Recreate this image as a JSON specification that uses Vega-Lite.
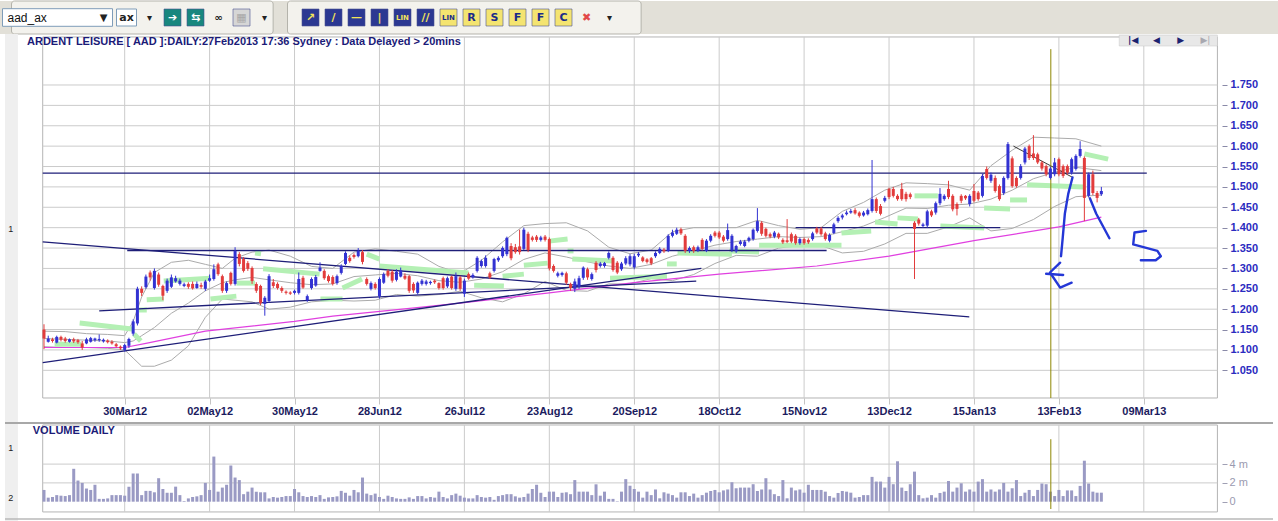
{
  "$schema": "https://vega.github.io/schema/vega-lite/v6.json",
  "padding": 0,
  "background": "white",
  "spacing": 0,
  "bounds": "flush",
  "config": {"view": {"stroke": null}, "font": "Liberation Sans", "axis": {"titleOpacity": 0, "grid": false}},
  "datasets": {
    "tbgrp": [{"from": "t00", "to": "t11"}, {"from": "t12", "to": "t27"}],
    "tb": [
      {"id": "t02", "kind": "dropbox", "g": ""},
      {"id": "t00", "kind": "ddtext", "g": "aad_ax"},
      {"id": "t04", "kind": "plain", "g": "▼"},
      {"id": "t05", "kind": "combo", "g": "ax"},
      {"id": "t06", "kind": "plain", "g": "▾"},
      {"id": "t07", "kind": "teal", "g": "➔"},
      {"id": "t08", "kind": "teal", "g": "⇆"},
      {"id": "t09", "kind": "plain", "g": "∞"},
      {"id": "t10", "kind": "gray", "g": "▦"},
      {"id": "t11", "kind": "plain", "g": "▾"},
      {"id": "t13", "kind": "navy", "g": "↗"},
      {"id": "t14", "kind": "navy", "g": "/"},
      {"id": "t15", "kind": "navy", "g": "—"},
      {"id": "t16", "kind": "navy", "g": "|"},
      {"id": "t17", "kind": "navy", "g": "LIN"},
      {"id": "t18", "kind": "navy", "g": "//"},
      {"id": "t19", "kind": "yellow", "g": "LIN"},
      {"id": "t20", "kind": "yellow", "g": "R"},
      {"id": "t21", "kind": "yellow", "g": "S"},
      {"id": "t22", "kind": "yellow", "g": "F"},
      {"id": "t23", "kind": "yellow", "g": "F"},
      {"id": "t24", "kind": "yellow", "g": "C"},
      {"id": "t25", "kind": "red", "g": "✖"},
      {"id": "t26", "kind": "plain", "g": "▾"}
    ],
    "pgrid": [{"p": 1.05}, {"p": 1.1}, {"p": 1.15}, {"p": 1.2}, {"p": 1.25}, {"p": 1.3}, {"p": 1.35}, {"p": 1.4}, {"p": 1.45}, {"p": 1.5}, {"p": 1.55}, {"p": 1.6}, {"p": 1.65}, {"p": 1.7}, {"p": 1.75}],
    "xgrid": [{"i": 19}, {"i": 39}, {"i": 59}, {"i": 79}, {"i": 99}, {"i": 119}, {"i": 139}, {"i": 159}, {"i": 179}, {"i": 199}, {"i": 219}, {"i": 239}, {"i": 259}],
    "bb": [
      {"i": 0, "up": 1.146, "mid": 1.128, "lo": 1.108},
      {"i": 5, "up": 1.145, "mid": 1.126, "lo": 1.106},
      {"i": 10, "up": 1.14, "mid": 1.124, "lo": 1.106},
      {"i": 15, "up": 1.138, "mid": 1.122, "lo": 1.104},
      {"i": 19, "up": 1.135, "mid": 1.118, "lo": 1.1},
      {"i": 21, "up": 1.17, "mid": 1.122, "lo": 1.08},
      {"i": 23, "up": 1.23, "mid": 1.135, "lo": 1.06},
      {"i": 26, "up": 1.29, "mid": 1.155, "lo": 1.06},
      {"i": 30, "up": 1.315, "mid": 1.19, "lo": 1.075},
      {"i": 34, "up": 1.32, "mid": 1.215, "lo": 1.11},
      {"i": 38, "up": 1.31, "mid": 1.245, "lo": 1.18},
      {"i": 42, "up": 1.3, "mid": 1.265, "lo": 1.225},
      {"i": 45, "up": 1.325, "mid": 1.272, "lo": 1.222},
      {"i": 49, "up": 1.34, "mid": 1.278, "lo": 1.218},
      {"i": 53, "up": 1.345, "mid": 1.272, "lo": 1.2},
      {"i": 58, "up": 1.33, "mid": 1.265, "lo": 1.205},
      {"i": 63, "up": 1.305, "mid": 1.26, "lo": 1.218},
      {"i": 68, "up": 1.3, "mid": 1.262, "lo": 1.222},
      {"i": 73, "up": 1.34, "mid": 1.28, "lo": 1.22},
      {"i": 78, "up": 1.348, "mid": 1.284, "lo": 1.222},
      {"i": 83, "up": 1.342, "mid": 1.288, "lo": 1.236},
      {"i": 88, "up": 1.335, "mid": 1.282, "lo": 1.232},
      {"i": 93, "up": 1.305, "mid": 1.27, "lo": 1.236},
      {"i": 98, "up": 1.288, "mid": 1.266, "lo": 1.244},
      {"i": 103, "up": 1.32, "mid": 1.274, "lo": 1.228},
      {"i": 108, "up": 1.365, "mid": 1.292, "lo": 1.218},
      {"i": 113, "up": 1.405, "mid": 1.322, "lo": 1.238},
      {"i": 118, "up": 1.41, "mid": 1.338, "lo": 1.268},
      {"i": 123, "up": 1.412, "mid": 1.328, "lo": 1.246},
      {"i": 128, "up": 1.392, "mid": 1.316, "lo": 1.244},
      {"i": 133, "up": 1.352, "mid": 1.306, "lo": 1.262},
      {"i": 138, "up": 1.336, "mid": 1.3, "lo": 1.262},
      {"i": 143, "up": 1.345, "mid": 1.31, "lo": 1.275},
      {"i": 148, "up": 1.39, "mid": 1.33, "lo": 1.27},
      {"i": 153, "up": 1.4, "mid": 1.343, "lo": 1.285},
      {"i": 158, "up": 1.4, "mid": 1.357, "lo": 1.312},
      {"i": 163, "up": 1.4, "mid": 1.366, "lo": 1.332},
      {"i": 168, "up": 1.418, "mid": 1.372, "lo": 1.33},
      {"i": 173, "up": 1.405, "mid": 1.378, "lo": 1.35},
      {"i": 178, "up": 1.396, "mid": 1.376, "lo": 1.356},
      {"i": 183, "up": 1.4, "mid": 1.378, "lo": 1.356},
      {"i": 188, "up": 1.44, "mid": 1.39, "lo": 1.338},
      {"i": 193, "up": 1.462, "mid": 1.404, "lo": 1.342},
      {"i": 198, "up": 1.492, "mid": 1.425, "lo": 1.36},
      {"i": 203, "up": 1.51, "mid": 1.448, "lo": 1.386},
      {"i": 208, "up": 1.508, "mid": 1.447, "lo": 1.386},
      {"i": 213, "up": 1.505, "mid": 1.455, "lo": 1.402},
      {"i": 218, "up": 1.492, "mid": 1.458, "lo": 1.424},
      {"i": 223, "up": 1.552, "mid": 1.47, "lo": 1.392},
      {"i": 228, "up": 1.59, "mid": 1.492, "lo": 1.398},
      {"i": 233, "up": 1.622, "mid": 1.52, "lo": 1.42},
      {"i": 238, "up": 1.62, "mid": 1.536, "lo": 1.452},
      {"i": 243, "up": 1.618, "mid": 1.548, "lo": 1.476},
      {"i": 249, "up": 1.6, "mid": 1.54, "lo": 1.48}
    ],
    "ma": [
      {"i": 0, "p": 1.106}, {"i": 19, "p": 1.106}, {"i": 24, "p": 1.116}, {"i": 38, "p": 1.146}, {"i": 59, "p": 1.17}, {"i": 68, "p": 1.183}, {"i": 89, "p": 1.205}, {"i": 99, "p": 1.216}, {"i": 119, "p": 1.24}, {"i": 139, "p": 1.265}, {"i": 159, "p": 1.286}, {"i": 182, "p": 1.306}, {"i": 199, "p": 1.33}, {"i": 219, "p": 1.368}, {"i": 239, "p": 1.402}, {"i": 249, "p": 1.426}
    ],
    "stops": [
      {"seg": 1, "i": 2.5, "p": 1.114}, {"seg": 1, "i": 8.8, "p": 1.114},
      {"seg": 2, "i": 8.4, "p": 1.166}, {"seg": 2, "i": 21.2, "p": 1.151},
      {"seg": 3, "i": 21.2, "p": 1.139}, {"seg": 3, "i": 22.8, "p": 1.122},
      {"seg": 4, "i": 22.4, "p": 1.198}, {"seg": 4, "i": 24.2, "p": 1.198},
      {"seg": 5, "i": 24.2, "p": 1.223}, {"seg": 5, "i": 28.2, "p": 1.225},
      {"seg": 6, "i": 28.2, "p": 1.269}, {"seg": 6, "i": 39.2, "p": 1.276},
      {"seg": 7, "i": 39.2, "p": 1.225}, {"seg": 7, "i": 45.3, "p": 1.232},
      {"seg": 8, "i": 45.3, "p": 1.264}, {"seg": 8, "i": 49.7, "p": 1.264},
      {"seg": 9, "i": 49.7, "p": 1.338}, {"seg": 9, "i": 51.1, "p": 1.336},
      {"seg": 10, "i": 51.6, "p": 1.299}, {"seg": 10, "i": 64.9, "p": 1.286},
      {"seg": 11, "i": 65.1, "p": 1.225}, {"seg": 11, "i": 70.3, "p": 1.225},
      {"seg": 12, "i": 70.3, "p": 1.252}, {"seg": 12, "i": 74.9, "p": 1.274},
      {"seg": 13, "i": 76, "p": 1.335}, {"seg": 13, "i": 79, "p": 1.323},
      {"seg": 14, "i": 79, "p": 1.306}, {"seg": 14, "i": 100, "p": 1.289},
      {"seg": 16, "i": 101.3, "p": 1.259}, {"seg": 16, "i": 108.3, "p": 1.257},
      {"seg": 17, "i": 108, "p": 1.281}, {"seg": 17, "i": 113, "p": 1.286},
      {"seg": 18, "i": 113, "p": 1.308}, {"seg": 18, "i": 118.6, "p": 1.313},
      {"seg": 19, "i": 118.9, "p": 1.367}, {"seg": 19, "i": 123.3, "p": 1.372},
      {"seg": 20, "i": 123.3, "p": 1.343}, {"seg": 20, "i": 124.7, "p": 1.343},
      {"seg": 21, "i": 124.4, "p": 1.323}, {"seg": 21, "i": 134, "p": 1.318},
      {"seg": 22, "i": 133.3, "p": 1.276}, {"seg": 22, "i": 146.7, "p": 1.281},
      {"seg": 23, "i": 146.7, "p": 1.311}, {"seg": 23, "i": 149, "p": 1.311},
      {"seg": 24, "i": 149.2, "p": 1.338}, {"seg": 24, "i": 162, "p": 1.335},
      {"seg": 25, "i": 161.4, "p": 1.343}, {"seg": 25, "i": 168.4, "p": 1.34},
      {"seg": 26, "i": 168.4, "p": 1.357}, {"seg": 26, "i": 187.8, "p": 1.357},
      {"seg": 28, "i": 187.8, "p": 1.387}, {"seg": 28, "i": 194.8, "p": 1.392},
      {"seg": 29, "i": 195.7, "p": 1.414}, {"seg": 29, "i": 201, "p": 1.409},
      {"seg": 30, "i": 201, "p": 1.424}, {"seg": 30, "i": 205.8, "p": 1.421},
      {"seg": 31, "i": 205, "p": 1.478}, {"seg": 31, "i": 210.5, "p": 1.478},
      {"seg": 32, "i": 211.1, "p": 1.404}, {"seg": 32, "i": 221.4, "p": 1.399},
      {"seg": 33, "i": 221.4, "p": 1.448}, {"seg": 33, "i": 227.5, "p": 1.446},
      {"seg": 34, "i": 227.5, "p": 1.468}, {"seg": 34, "i": 231.5, "p": 1.468},
      {"seg": 35, "i": 231.5, "p": 1.505}, {"seg": 35, "i": 244.8, "p": 1.5},
      {"seg": 36, "i": 245, "p": 1.581}, {"seg": 36, "i": 250.6, "p": 1.568}
    ],
    "trend": [
      {"id": "t1", "i": -0.3, "p": 1.365}, {"id": "t1", "i": 217.9, "p": 1.181},
      {"id": "t2", "i": -0.3, "p": 1.069}, {"id": "t2", "i": 154.8, "p": 1.3},
      {"id": "t3", "i": 13.0, "p": 1.196}, {"id": "t3", "i": 153.6, "p": 1.269},
      {"id": "t4", "i": 19.6, "p": 1.344}, {"id": "t4", "i": 184.3, "p": 1.344},
      {"id": "t5", "i": 177, "p": 1.4}, {"id": "t5", "i": 225.2, "p": 1.4},
      {"id": "t6", "i": -0.3, "p": 1.534}, {"id": "t6", "i": 259.7, "p": 1.534}
    ],
    "trend2": [{"i": 228.3, "p": 1.6}, {"i": 242.3, "p": 1.523}],
    "pen": [
      {"s": "a", "k": 0, "i": 242.2, "p": 1.523}, {"s": "a", "k": 1, "i": 241.2, "p": 1.483}, {"s": "a", "k": 2, "i": 240.4, "p": 1.434}, {"s": "a", "k": 3, "i": 239.9, "p": 1.375}, {"s": "a", "k": 4, "i": 239.5, "p": 1.33},
      {"s": "e", "k": 0, "i": 239.3, "p": 1.314}, {"s": "e", "k": 1, "i": 236.9, "p": 1.29}, {"s": "e", "k": 2, "i": 239.3, "p": 1.253}, {"s": "e", "k": 3, "i": 242.0, "p": 1.265},
      {"s": "m", "k": 0, "i": 236.0, "p": 1.287}, {"s": "m", "k": 1, "i": 240.0, "p": 1.284},
      {"s": "b", "k": 0, "i": 246.3, "p": 1.472}, {"s": "b", "k": 1, "i": 247.8, "p": 1.434}, {"s": "b", "k": 2, "i": 250.9, "p": 1.374},
      {"s": "z", "k": 0, "i": 259.5, "p": 1.392}, {"s": "z", "k": 1, "i": 256.8, "p": 1.388}, {"s": "z", "k": 2, "i": 256.5, "p": 1.359}, {"s": "z", "k": 3, "i": 262.2, "p": 1.343}, {"s": "z", "k": 4, "i": 263.0, "p": 1.33}, {"s": "z", "k": 5, "i": 261.8, "p": 1.32}, {"s": "z", "k": 6, "i": 258.3, "p": 1.32}
    ],
    "bars": [
      {"i": 0, "o": 1.15, "h": 1.163, "l": 1.102, "c": 1.128, "v": 1.25},
      {"i": 1, "o": 1.12, "h": 1.135, "l": 1.118, "c": 1.128, "v": 0.43},
      {"i": 2, "o": 1.126, "h": 1.13, "l": 1.118, "c": 1.122, "v": 0.5},
      {"i": 3, "o": 1.118, "h": 1.135, "l": 1.116, "c": 1.132, "v": 0.7},
      {"i": 4, "o": 1.132, "h": 1.135, "l": 1.121, "c": 1.125, "v": 0.64},
      {"i": 5, "o": 1.128, "h": 1.132, "l": 1.118, "c": 1.122, "v": 0.6},
      {"i": 6, "o": 1.12, "h": 1.128, "l": 1.118, "c": 1.126, "v": 0.7},
      {"i": 7, "o": 1.126, "h": 1.13, "l": 1.117, "c": 1.121, "v": 3.5},
      {"i": 8, "o": 1.124, "h": 1.127, "l": 1.115, "c": 1.119, "v": 2.25},
      {"i": 9, "o": 1.116, "h": 1.122, "l": 1.1, "c": 1.106, "v": 2.0},
      {"i": 10, "o": 1.116, "h": 1.13, "l": 1.114, "c": 1.126, "v": 1.4},
      {"i": 11, "o": 1.12, "h": 1.132, "l": 1.118, "c": 1.129, "v": 1.25},
      {"i": 12, "o": 1.124, "h": 1.13, "l": 1.12, "c": 1.128, "v": 1.8},
      {"i": 13, "o": 1.124, "h": 1.138, "l": 1.12, "c": 1.127, "v": 0.3},
      {"i": 14, "o": 1.121, "h": 1.128, "l": 1.118, "c": 1.125, "v": 0.3},
      {"i": 15, "o": 1.123, "h": 1.126, "l": 1.116, "c": 1.119, "v": 0.35},
      {"i": 16, "o": 1.12, "h": 1.124, "l": 1.113, "c": 1.116, "v": 0.7},
      {"i": 17, "o": 1.114, "h": 1.117, "l": 1.106, "c": 1.109, "v": 0.7},
      {"i": 18, "o": 1.108, "h": 1.111, "l": 1.1, "c": 1.104, "v": 0.7},
      {"i": 19, "o": 1.1, "h": 1.115, "l": 1.096, "c": 1.112, "v": 0.64},
      {"i": 20, "o": 1.11, "h": 1.13, "l": 1.105, "c": 1.127, "v": 1.6},
      {"i": 21, "o": 1.14, "h": 1.175, "l": 1.135, "c": 1.17, "v": 3.0},
      {"i": 22, "o": 1.165, "h": 1.255, "l": 1.16, "c": 1.25, "v": 3.0},
      {"i": 23, "o": 1.25, "h": 1.256, "l": 1.232, "c": 1.24, "v": 0.7},
      {"i": 24, "o": 1.254, "h": 1.285, "l": 1.25, "c": 1.28, "v": 1.15},
      {"i": 25, "o": 1.29, "h": 1.295, "l": 1.27, "c": 1.278, "v": 1.15},
      {"i": 26, "o": 1.252, "h": 1.3, "l": 1.248, "c": 1.294, "v": 1.0},
      {"i": 27, "o": 1.285, "h": 1.29, "l": 1.255, "c": 1.26, "v": 2.5},
      {"i": 28, "o": 1.257, "h": 1.26, "l": 1.222, "c": 1.233, "v": 1.35},
      {"i": 29, "o": 1.245, "h": 1.275, "l": 1.24, "c": 1.27, "v": 0.95},
      {"i": 30, "o": 1.255, "h": 1.285, "l": 1.252, "c": 1.278, "v": 0.95},
      {"i": 31, "o": 1.268, "h": 1.282, "l": 1.265, "c": 1.276, "v": 1.6},
      {"i": 32, "o": 1.262, "h": 1.275, "l": 1.258, "c": 1.27, "v": 0.7},
      {"i": 33, "o": 1.257, "h": 1.265, "l": 1.254, "c": 1.261, "v": 0.07},
      {"i": 34, "o": 1.262, "h": 1.266, "l": 1.25, "c": 1.255, "v": 0.35},
      {"i": 35, "o": 1.262, "h": 1.268, "l": 1.248, "c": 1.251, "v": 0.5},
      {"i": 36, "o": 1.252, "h": 1.268, "l": 1.25, "c": 1.262, "v": 0.57},
      {"i": 37, "o": 1.259, "h": 1.265, "l": 1.25, "c": 1.255, "v": 0.7},
      {"i": 38, "o": 1.25, "h": 1.272, "l": 1.245, "c": 1.268, "v": 2.0},
      {"i": 39, "o": 1.27, "h": 1.285, "l": 1.267, "c": 1.276, "v": 1.25},
      {"i": 40, "o": 1.274, "h": 1.31, "l": 1.27, "c": 1.298, "v": 4.8},
      {"i": 41, "o": 1.31, "h": 1.314, "l": 1.282, "c": 1.286, "v": 1.07},
      {"i": 42, "o": 1.281, "h": 1.285, "l": 1.24, "c": 1.245, "v": 1.5},
      {"i": 43, "o": 1.245, "h": 1.268, "l": 1.24, "c": 1.264, "v": 1.8},
      {"i": 44, "o": 1.289, "h": 1.292, "l": 1.258, "c": 1.262, "v": 3.85},
      {"i": 45, "o": 1.262, "h": 1.352, "l": 1.258, "c": 1.343, "v": 2.57},
      {"i": 46, "o": 1.335, "h": 1.34, "l": 1.305, "c": 1.311, "v": 2.3},
      {"i": 47, "o": 1.323, "h": 1.328, "l": 1.29, "c": 1.294, "v": 0.8},
      {"i": 48, "o": 1.313, "h": 1.318, "l": 1.294, "c": 1.299, "v": 1.07},
      {"i": 49, "o": 1.301, "h": 1.305, "l": 1.262, "c": 1.269, "v": 1.5},
      {"i": 50, "o": 1.262, "h": 1.266, "l": 1.24, "c": 1.245, "v": 1.07},
      {"i": 51, "o": 1.257, "h": 1.26, "l": 1.21, "c": 1.215, "v": 1.0},
      {"i": 52, "o": 1.213, "h": 1.232, "l": 1.184, "c": 1.228, "v": 1.0},
      {"i": 53, "o": 1.22, "h": 1.286, "l": 1.216, "c": 1.281, "v": 0.35},
      {"i": 54, "o": 1.266, "h": 1.274, "l": 1.252, "c": 1.257, "v": 0.5},
      {"i": 55, "o": 1.262, "h": 1.266, "l": 1.248, "c": 1.252, "v": 0.43},
      {"i": 56, "o": 1.252, "h": 1.256, "l": 1.24, "c": 1.245, "v": 0.5},
      {"i": 57, "o": 1.243, "h": 1.246, "l": 1.236, "c": 1.24, "v": 0.6},
      {"i": 58, "o": 1.241, "h": 1.244, "l": 1.235, "c": 1.238, "v": 0.6},
      {"i": 59, "o": 1.24, "h": 1.248, "l": 1.236, "c": 1.245, "v": 1.35},
      {"i": 60, "o": 1.24, "h": 1.29, "l": 1.236, "c": 1.274, "v": 1.0},
      {"i": 61, "o": 1.277, "h": 1.282, "l": 1.25, "c": 1.253, "v": 0.6},
      {"i": 62, "o": 1.222, "h": 1.236, "l": 1.218, "c": 1.232, "v": 0.5},
      {"i": 63, "o": 1.252, "h": 1.278, "l": 1.248, "c": 1.274, "v": 0.6},
      {"i": 64, "o": 1.258, "h": 1.284, "l": 1.255, "c": 1.279, "v": 0.5},
      {"i": 65, "o": 1.294, "h": 1.315, "l": 1.292, "c": 1.302, "v": 0.7},
      {"i": 66, "o": 1.294, "h": 1.298, "l": 1.272, "c": 1.276, "v": 0.3},
      {"i": 67, "o": 1.281, "h": 1.285, "l": 1.265, "c": 1.269, "v": 0.46},
      {"i": 68, "o": 1.279, "h": 1.283, "l": 1.258, "c": 1.262, "v": 0.5},
      {"i": 69, "o": 1.264, "h": 1.285, "l": 1.26, "c": 1.281, "v": 0.57},
      {"i": 70, "o": 1.289, "h": 1.31, "l": 1.285, "c": 1.306, "v": 1.15},
      {"i": 71, "o": 1.311, "h": 1.342, "l": 1.308, "c": 1.338, "v": 0.95},
      {"i": 72, "o": 1.326, "h": 1.332, "l": 1.314, "c": 1.318, "v": 0.64},
      {"i": 73, "o": 1.333, "h": 1.337, "l": 1.324, "c": 1.328, "v": 1.25},
      {"i": 74, "o": 1.33, "h": 1.35, "l": 1.327, "c": 1.343, "v": 1.0},
      {"i": 75, "o": 1.34, "h": 1.345, "l": 1.31, "c": 1.316, "v": 2.57},
      {"i": 76, "o": 1.274, "h": 1.278, "l": 1.258, "c": 1.262, "v": 0.86},
      {"i": 77, "o": 1.25, "h": 1.268, "l": 1.246, "c": 1.264, "v": 0.7},
      {"i": 78, "o": 1.262, "h": 1.266, "l": 1.248, "c": 1.252, "v": 0.86},
      {"i": 79, "o": 1.232, "h": 1.278, "l": 1.226, "c": 1.274, "v": 0.5},
      {"i": 80, "o": 1.265, "h": 1.29, "l": 1.262, "c": 1.286, "v": 0.3},
      {"i": 81, "o": 1.294, "h": 1.298, "l": 1.278, "c": 1.282, "v": 0.64},
      {"i": 82, "o": 1.292, "h": 1.296, "l": 1.265, "c": 1.27, "v": 0.5},
      {"i": 83, "o": 1.272, "h": 1.298, "l": 1.268, "c": 1.292, "v": 0.35},
      {"i": 84, "o": 1.28, "h": 1.302, "l": 1.278, "c": 1.295, "v": 0.3},
      {"i": 85, "o": 1.282, "h": 1.288, "l": 1.272, "c": 1.275, "v": 0.3},
      {"i": 86, "o": 1.281, "h": 1.284, "l": 1.24, "c": 1.245, "v": 0.46},
      {"i": 87, "o": 1.262, "h": 1.266, "l": 1.24, "c": 1.246, "v": 0.3},
      {"i": 88, "o": 1.24, "h": 1.268, "l": 1.236, "c": 1.265, "v": 0.6},
      {"i": 89, "o": 1.262, "h": 1.274, "l": 1.258, "c": 1.27, "v": 0.6},
      {"i": 90, "o": 1.262, "h": 1.272, "l": 1.258, "c": 1.268, "v": 0.35},
      {"i": 91, "o": 1.264, "h": 1.27, "l": 1.26, "c": 1.267, "v": 0.5},
      {"i": 92, "o": 1.27, "h": 1.273, "l": 1.262, "c": 1.266, "v": 0.43},
      {"i": 93, "o": 1.264, "h": 1.266, "l": 1.248, "c": 1.252, "v": 1.07},
      {"i": 94, "o": 1.276, "h": 1.28, "l": 1.248, "c": 1.252, "v": 0.5},
      {"i": 95, "o": 1.256, "h": 1.28, "l": 1.252, "c": 1.276, "v": 0.35},
      {"i": 96, "o": 1.28, "h": 1.282, "l": 1.248, "c": 1.252, "v": 0.7},
      {"i": 97, "o": 1.25, "h": 1.29, "l": 1.245, "c": 1.281, "v": 0.86},
      {"i": 98, "o": 1.278, "h": 1.282, "l": 1.245, "c": 1.25, "v": 0.64},
      {"i": 99, "o": 1.238, "h": 1.275, "l": 1.23, "c": 1.27, "v": 0.43},
      {"i": 100, "o": 1.286, "h": 1.29, "l": 1.272, "c": 1.275, "v": 0.35},
      {"i": 101, "o": 1.278, "h": 1.288, "l": 1.275, "c": 1.284, "v": 0.35},
      {"i": 102, "o": 1.294, "h": 1.33, "l": 1.29, "c": 1.326, "v": 0.7},
      {"i": 103, "o": 1.306, "h": 1.322, "l": 1.302, "c": 1.318, "v": 0.5},
      {"i": 104, "o": 1.306, "h": 1.332, "l": 1.302, "c": 1.326, "v": 0.43},
      {"i": 105, "o": 1.288, "h": 1.292, "l": 1.274, "c": 1.278, "v": 0.5},
      {"i": 106, "o": 1.294, "h": 1.326, "l": 1.29, "c": 1.323, "v": 0.2},
      {"i": 107, "o": 1.32, "h": 1.33, "l": 1.316, "c": 1.326, "v": 0.6},
      {"i": 108, "o": 1.33, "h": 1.354, "l": 1.326, "c": 1.35, "v": 0.7},
      {"i": 109, "o": 1.335, "h": 1.378, "l": 1.33, "c": 1.375, "v": 0.8},
      {"i": 110, "o": 1.355, "h": 1.362, "l": 1.32, "c": 1.325, "v": 0.8},
      {"i": 111, "o": 1.352, "h": 1.36, "l": 1.336, "c": 1.34, "v": 0.57},
      {"i": 112, "o": 1.354, "h": 1.395, "l": 1.334, "c": 1.34, "v": 0.43},
      {"i": 113, "o": 1.348, "h": 1.4, "l": 1.345, "c": 1.395, "v": 0.5},
      {"i": 114, "o": 1.385, "h": 1.39, "l": 1.34, "c": 1.345, "v": 0.86},
      {"i": 115, "o": 1.376, "h": 1.38, "l": 1.366, "c": 1.37, "v": 1.35},
      {"i": 116, "o": 1.378, "h": 1.382, "l": 1.365, "c": 1.37, "v": 1.8},
      {"i": 117, "o": 1.37, "h": 1.38, "l": 1.366, "c": 1.376, "v": 0.95},
      {"i": 118, "o": 1.378, "h": 1.382, "l": 1.366, "c": 1.37, "v": 0.5},
      {"i": 119, "o": 1.372, "h": 1.376, "l": 1.295, "c": 1.3, "v": 1.07},
      {"i": 120, "o": 1.306, "h": 1.31, "l": 1.29, "c": 1.294, "v": 1.07},
      {"i": 121, "o": 1.282, "h": 1.292, "l": 1.278, "c": 1.288, "v": 0.5},
      {"i": 122, "o": 1.284, "h": 1.292, "l": 1.28, "c": 1.289, "v": 0.95},
      {"i": 123, "o": 1.288, "h": 1.292, "l": 1.26, "c": 1.265, "v": 1.0},
      {"i": 124, "o": 1.262, "h": 1.265, "l": 1.245, "c": 1.252, "v": 0.8},
      {"i": 125, "o": 1.25, "h": 1.275, "l": 1.242, "c": 1.268, "v": 2.3},
      {"i": 126, "o": 1.256, "h": 1.282, "l": 1.25, "c": 1.276, "v": 1.07},
      {"i": 127, "o": 1.277, "h": 1.305, "l": 1.272, "c": 1.302, "v": 1.07},
      {"i": 128, "o": 1.298, "h": 1.302, "l": 1.272, "c": 1.278, "v": 1.07},
      {"i": 129, "o": 1.274, "h": 1.29, "l": 1.27, "c": 1.286, "v": 0.7},
      {"i": 130, "o": 1.314, "h": 1.318, "l": 1.29, "c": 1.296, "v": 1.85},
      {"i": 131, "o": 1.306, "h": 1.316, "l": 1.302, "c": 1.312, "v": 0.64},
      {"i": 132, "o": 1.306, "h": 1.316, "l": 1.302, "c": 1.313, "v": 1.07},
      {"i": 133, "o": 1.326, "h": 1.342, "l": 1.322, "c": 1.338, "v": 0.3},
      {"i": 134, "o": 1.326, "h": 1.33, "l": 1.292, "c": 1.296, "v": 0.3},
      {"i": 135, "o": 1.314, "h": 1.318, "l": 1.286, "c": 1.29, "v": 0.05},
      {"i": 136, "o": 1.298, "h": 1.316, "l": 1.294, "c": 1.312, "v": 1.07},
      {"i": 137, "o": 1.312, "h": 1.33, "l": 1.308, "c": 1.325, "v": 2.4},
      {"i": 138, "o": 1.31, "h": 1.335, "l": 1.305, "c": 1.33, "v": 1.7},
      {"i": 139, "o": 1.303, "h": 1.336, "l": 1.298, "c": 1.33, "v": 1.35},
      {"i": 140, "o": 1.332, "h": 1.34, "l": 1.328, "c": 1.336, "v": 1.07},
      {"i": 141, "o": 1.327, "h": 1.33, "l": 1.315, "c": 1.318, "v": 0.43},
      {"i": 142, "o": 1.322, "h": 1.325, "l": 1.312, "c": 1.316, "v": 1.07},
      {"i": 143, "o": 1.325, "h": 1.328, "l": 1.308, "c": 1.312, "v": 0.7},
      {"i": 144, "o": 1.33, "h": 1.342, "l": 1.326, "c": 1.338, "v": 1.3},
      {"i": 145, "o": 1.338, "h": 1.352, "l": 1.335, "c": 1.348, "v": 0.36},
      {"i": 146, "o": 1.346, "h": 1.35, "l": 1.338, "c": 1.342, "v": 1.0},
      {"i": 147, "o": 1.343, "h": 1.384, "l": 1.34, "c": 1.38, "v": 0.86},
      {"i": 148, "o": 1.38, "h": 1.395, "l": 1.376, "c": 1.388, "v": 0.7},
      {"i": 149, "o": 1.385, "h": 1.4, "l": 1.382, "c": 1.395, "v": 0.43},
      {"i": 150, "o": 1.396, "h": 1.4, "l": 1.382, "c": 1.386, "v": 1.0},
      {"i": 151, "o": 1.38, "h": 1.384, "l": 1.338, "c": 1.343, "v": 1.0},
      {"i": 152, "o": 1.343, "h": 1.354, "l": 1.338, "c": 1.35, "v": 0.6},
      {"i": 153, "o": 1.352, "h": 1.356, "l": 1.338, "c": 1.343, "v": 0.86},
      {"i": 154, "o": 1.343, "h": 1.356, "l": 1.34, "c": 1.352, "v": 0.43},
      {"i": 155, "o": 1.37, "h": 1.374, "l": 1.344, "c": 1.348, "v": 0.7},
      {"i": 156, "o": 1.343, "h": 1.372, "l": 1.34, "c": 1.368, "v": 0.96},
      {"i": 157, "o": 1.368, "h": 1.384, "l": 1.364, "c": 1.38, "v": 1.14},
      {"i": 158, "o": 1.388, "h": 1.392, "l": 1.376, "c": 1.38, "v": 1.25},
      {"i": 159, "o": 1.388, "h": 1.392, "l": 1.372, "c": 1.376, "v": 1.0},
      {"i": 160, "o": 1.378, "h": 1.382, "l": 1.364, "c": 1.368, "v": 1.2},
      {"i": 161, "o": 1.372, "h": 1.41, "l": 1.368, "c": 1.394, "v": 1.3},
      {"i": 162, "o": 1.345, "h": 1.384, "l": 1.34, "c": 1.38, "v": 2.07},
      {"i": 163, "o": 1.342, "h": 1.358, "l": 1.338, "c": 1.355, "v": 1.43},
      {"i": 164, "o": 1.36, "h": 1.37, "l": 1.356, "c": 1.366, "v": 1.5},
      {"i": 165, "o": 1.355, "h": 1.37, "l": 1.352, "c": 1.366, "v": 1.5},
      {"i": 166, "o": 1.368, "h": 1.378, "l": 1.364, "c": 1.375, "v": 1.5},
      {"i": 167, "o": 1.372, "h": 1.398, "l": 1.368, "c": 1.395, "v": 1.86},
      {"i": 168, "o": 1.392, "h": 1.448, "l": 1.388, "c": 1.416, "v": 1.14},
      {"i": 169, "o": 1.412, "h": 1.416, "l": 1.38, "c": 1.385, "v": 1.3},
      {"i": 170, "o": 1.397, "h": 1.4, "l": 1.376, "c": 1.38, "v": 2.5},
      {"i": 171, "o": 1.384, "h": 1.388, "l": 1.374, "c": 1.378, "v": 1.3},
      {"i": 172, "o": 1.378, "h": 1.392, "l": 1.374, "c": 1.388, "v": 0.8},
      {"i": 173, "o": 1.385, "h": 1.388, "l": 1.372, "c": 1.376, "v": 0.6},
      {"i": 174, "o": 1.37, "h": 1.374, "l": 1.36, "c": 1.364, "v": 2.3},
      {"i": 175, "o": 1.369, "h": 1.421, "l": 1.362, "c": 1.365, "v": 0.36},
      {"i": 176, "o": 1.384, "h": 1.388, "l": 1.362, "c": 1.366, "v": 1.5},
      {"i": 177, "o": 1.38, "h": 1.384, "l": 1.358, "c": 1.362, "v": 1.2},
      {"i": 178, "o": 1.362, "h": 1.376, "l": 1.358, "c": 1.372, "v": 1.3},
      {"i": 179, "o": 1.372, "h": 1.376, "l": 1.358, "c": 1.362, "v": 0.96},
      {"i": 180, "o": 1.37, "h": 1.374, "l": 1.36, "c": 1.364, "v": 1.8},
      {"i": 181, "o": 1.372, "h": 1.39, "l": 1.368, "c": 1.386, "v": 1.25},
      {"i": 182, "o": 1.398, "h": 1.402, "l": 1.384, "c": 1.388, "v": 1.25},
      {"i": 183, "o": 1.398, "h": 1.402, "l": 1.38, "c": 1.384, "v": 1.25},
      {"i": 184, "o": 1.386, "h": 1.39, "l": 1.368, "c": 1.372, "v": 1.07},
      {"i": 185, "o": 1.368, "h": 1.386, "l": 1.364, "c": 1.382, "v": 0.6},
      {"i": 186, "o": 1.387, "h": 1.412, "l": 1.384, "c": 1.408, "v": 0.43},
      {"i": 187, "o": 1.416, "h": 1.428, "l": 1.412, "c": 1.424, "v": 0.93},
      {"i": 188, "o": 1.425, "h": 1.434, "l": 1.42, "c": 1.43, "v": 1.14},
      {"i": 189, "o": 1.433, "h": 1.442, "l": 1.43, "c": 1.437, "v": 1.07},
      {"i": 190, "o": 1.437, "h": 1.446, "l": 1.434, "c": 1.441, "v": 0.96},
      {"i": 191, "o": 1.443, "h": 1.448, "l": 1.432, "c": 1.435, "v": 0.43},
      {"i": 192, "o": 1.437, "h": 1.44, "l": 1.425, "c": 1.429, "v": 0.5},
      {"i": 193, "o": 1.43, "h": 1.441, "l": 1.427, "c": 1.437, "v": 0.7},
      {"i": 194, "o": 1.433, "h": 1.447, "l": 1.43, "c": 1.443, "v": 0.7},
      {"i": 195, "o": 1.441, "h": 1.566, "l": 1.437, "c": 1.47, "v": 2.64},
      {"i": 196, "o": 1.47, "h": 1.474, "l": 1.436, "c": 1.441, "v": 2.14},
      {"i": 197, "o": 1.453, "h": 1.458, "l": 1.43, "c": 1.434, "v": 2.14},
      {"i": 198, "o": 1.466, "h": 1.478, "l": 1.462, "c": 1.473, "v": 1.5},
      {"i": 199, "o": 1.495, "h": 1.498, "l": 1.47, "c": 1.475, "v": 2.64},
      {"i": 200, "o": 1.495, "h": 1.5, "l": 1.474, "c": 1.478, "v": 1.86},
      {"i": 201, "o": 1.478, "h": 1.482, "l": 1.466, "c": 1.47, "v": 4.3},
      {"i": 202, "o": 1.495, "h": 1.51, "l": 1.466, "c": 1.47, "v": 1.5},
      {"i": 203, "o": 1.483, "h": 1.488, "l": 1.464, "c": 1.47, "v": 1.14},
      {"i": 204, "o": 1.482, "h": 1.486, "l": 1.47, "c": 1.475, "v": 1.86},
      {"i": 205, "o": 1.412, "h": 1.416, "l": 1.274, "c": 1.397, "v": 3.2},
      {"i": 206, "o": 1.42, "h": 1.424, "l": 1.405, "c": 1.41, "v": 0.7},
      {"i": 207, "o": 1.404, "h": 1.412, "l": 1.4, "c": 1.408, "v": 0.36},
      {"i": 208, "o": 1.405, "h": 1.444, "l": 1.4, "c": 1.44, "v": 0.43},
      {"i": 209, "o": 1.44, "h": 1.444, "l": 1.426, "c": 1.43, "v": 0.7},
      {"i": 210, "o": 1.437, "h": 1.464, "l": 1.432, "c": 1.46, "v": 0.43},
      {"i": 211, "o": 1.46, "h": 1.497, "l": 1.455, "c": 1.483, "v": 0.93},
      {"i": 212, "o": 1.47, "h": 1.482, "l": 1.466, "c": 1.478, "v": 1.07},
      {"i": 213, "o": 1.495, "h": 1.515, "l": 1.47, "c": 1.475, "v": 2.2},
      {"i": 214, "o": 1.478, "h": 1.482, "l": 1.44, "c": 1.445, "v": 1.07},
      {"i": 215, "o": 1.458, "h": 1.462, "l": 1.43, "c": 1.446, "v": 1.5},
      {"i": 216, "o": 1.478, "h": 1.482, "l": 1.46, "c": 1.466, "v": 1.96},
      {"i": 217, "o": 1.478, "h": 1.48, "l": 1.468, "c": 1.472, "v": 1.07},
      {"i": 218, "o": 1.458, "h": 1.482, "l": 1.452, "c": 1.478, "v": 1.3},
      {"i": 219, "o": 1.49, "h": 1.507, "l": 1.462, "c": 1.466, "v": 1.07},
      {"i": 220, "o": 1.486, "h": 1.49, "l": 1.466, "c": 1.47, "v": 2.14},
      {"i": 221, "o": 1.478, "h": 1.532, "l": 1.474, "c": 1.527, "v": 2.4},
      {"i": 222, "o": 1.544, "h": 1.55, "l": 1.518, "c": 1.522, "v": 1.07},
      {"i": 223, "o": 1.515, "h": 1.535, "l": 1.51, "c": 1.53, "v": 1.3},
      {"i": 224, "o": 1.522, "h": 1.528, "l": 1.486, "c": 1.49, "v": 1.07},
      {"i": 225, "o": 1.502, "h": 1.506, "l": 1.466, "c": 1.47, "v": 1.3},
      {"i": 226, "o": 1.485, "h": 1.526, "l": 1.48, "c": 1.522, "v": 2.0},
      {"i": 227, "o": 1.522, "h": 1.61, "l": 1.518, "c": 1.605, "v": 1.07},
      {"i": 228, "o": 1.57, "h": 1.575, "l": 1.498, "c": 1.502, "v": 1.43},
      {"i": 229, "o": 1.522, "h": 1.526, "l": 1.498, "c": 1.502, "v": 2.3},
      {"i": 230, "o": 1.522, "h": 1.556, "l": 1.518, "c": 1.551, "v": 0.6},
      {"i": 231, "o": 1.56, "h": 1.598, "l": 1.555, "c": 1.594, "v": 0.96},
      {"i": 232, "o": 1.6, "h": 1.604, "l": 1.566, "c": 1.571, "v": 1.25},
      {"i": 233, "o": 1.582, "h": 1.627, "l": 1.566, "c": 1.571, "v": 0.6},
      {"i": 234, "o": 1.58, "h": 1.584, "l": 1.556, "c": 1.56, "v": 1.25},
      {"i": 235, "o": 1.56, "h": 1.564, "l": 1.54, "c": 1.545, "v": 1.93},
      {"i": 236, "o": 1.551, "h": 1.555, "l": 1.526, "c": 1.531, "v": 1.86},
      {"i": 237, "o": 1.522, "h": 1.55, "l": 1.518, "c": 1.545, "v": 1.07},
      {"i": 238, "o": 1.531, "h": 1.571, "l": 1.526, "c": 1.56, "v": 0.6},
      {"i": 239, "o": 1.568, "h": 1.572, "l": 1.526, "c": 1.531, "v": 1.25},
      {"i": 240, "o": 1.551, "h": 1.555, "l": 1.522, "c": 1.527, "v": 0.6},
      {"i": 241, "o": 1.551, "h": 1.555, "l": 1.53, "c": 1.535, "v": 1.2},
      {"i": 242, "o": 1.535, "h": 1.572, "l": 1.53, "c": 1.568, "v": 1.2},
      {"i": 243, "o": 1.544, "h": 1.58, "l": 1.54, "c": 1.576, "v": 0.6},
      {"i": 244, "o": 1.576, "h": 1.612, "l": 1.572, "c": 1.593, "v": 1.68},
      {"i": 245, "o": 1.571, "h": 1.575, "l": 1.416, "c": 1.473, "v": 4.36},
      {"i": 246, "o": 1.478, "h": 1.535, "l": 1.474, "c": 1.531, "v": 1.93},
      {"i": 247, "o": 1.531, "h": 1.54, "l": 1.48, "c": 1.485, "v": 1.07},
      {"i": 248, "o": 1.485, "h": 1.49, "l": 1.462, "c": 1.473, "v": 0.96},
      {"i": 249, "o": 1.482, "h": 1.5, "l": 1.478, "c": 1.49, "v": 0.96}
    ]
  },
  "vconcat": [
    {
      "width": 1278,
      "height": 33,
      "view": {"fill": "#E2E0D8", "stroke": null},
      "encoding": {
        "x": {"field": "id", "type": "nominal", "axis": null,
          "scale": {"type": "band", "domain": ["t00","t01","t02","t03","t04","t05","t06","t07","t08","t09","t10","t11","t12","t13","t14","t15","t16","t17","t18","t19","t20","t21","t22","t23","t24","t25","t26","t27"], "range": [0, 644], "paddingInner": 0.25, "paddingOuter": 0.125}}
      },
      "layer": [
        {
          "data": {"name": "tbgrp"},
          "mark": {"type": "rect", "fill": "#F3F2ED", "stroke": "#B4B3AB", "cornerRadius": 3},
          "encoding": {
            "x": {"field": "from", "type": "nominal", "axis": null,
              "scale": {"type": "band", "domain": ["t00","t01","t02","t03","t04","t05","t06","t07","t08","t09","t10","t11","t12","t13","t14","t15","t16","t17","t18","t19","t20","t21","t22","t23","t24","t25","t26","t27"], "range": [0, 644], "paddingInner": 0.25, "paddingOuter": 0.125}},
            "x2": {"field": "to", "bandPosition": 1}
          }
        },
        {
          "data": {"name": "tb"},
          "transform": [{"filter": "datum.kind == 'dropbox'"}],
          "mark": {"type": "point", "shape": "M-1,-0.16H1V0.16H-1Z", "size": 12100, "filled": true, "fill": "#FFFFFF", "stroke": "#7F9DB9", "strokeWidth": 1, "opacity": 1}
        },
        {
          "data": {"name": "tb"},
          "transform": [{"filter": "datum.kind == 'combo'"}],
          "mark": {"type": "point", "shape": "M-1,-0.85H1V0.85H-1Z", "size": 400, "filled": true, "fill": "#FFFFFF", "stroke": "#7F9DB9", "strokeWidth": 1, "opacity": 1}
        },
        {
          "data": {"name": "tb"},
          "transform": [{"filter": "indexof(['teal','navy','yellow','gray'], datum.kind) >= 0"}],
          "mark": {"type": "point", "shape": "square", "size": 289, "filled": true, "stroke": "#4A5290", "strokeWidth": 0.6, "opacity": 1},
          "encoding": {
            "fill": {"field": "kind", "type": "nominal", "legend": null,
              "scale": {"domain": ["teal", "navy", "yellow", "gray"], "range": ["#18877E", "#2B3892", "#F4E470", "#D6D6D6"]}}
          }
        },
        {
          "data": {"name": "tb"},
          "transform": [{"filter": "datum.kind != 'dropbox' && datum.kind != 'ddtext'"}],
          "mark": {"type": "text", "font": "DejaVu Sans", "fontWeight": "bold", "baseline": "middle"},
          "encoding": {
            "text": {"field": "g"},
            "color": {
              "condition": [
                {"test": "datum.kind == 'navy'", "value": "#F2E35A"},
                {"test": "datum.kind == 'teal'", "value": "#FFFFFF"},
                {"test": "datum.kind == 'red'", "value": "#E24848"},
                {"test": "datum.kind == 'gray'", "value": "#A8A8A8"},
                {"test": "datum.kind == 'yellow'", "value": "#1B2A8A"}
              ],
              "value": "#222222"
            },
            "size": {"condition": [
                {"test": "datum.g == 'LIN'", "value": 7},
                {"test": "datum.kind == 'combo'", "value": 11},
                {"test": "datum.kind == 'plain'", "value": 10}
              ], "value": 11}
          }
        },
        {
          "data": {"name": "tb"},
          "transform": [{"filter": "datum.kind == 'ddtext'"}],
          "mark": {"type": "text", "align": "left", "dx": -4, "fontSize": 12, "font": "Liberation Sans", "color": "#111111", "baseline": "middle"},
          "encoding": {"text": {"field": "g"}}
        }
      ]
    },
    {
      "width": 1278,
      "height": 388,
      "title": {"text": "ARDENT LEISURE [ AAD ]:DAILY:27Feb2013 17:36 Sydney : Data Delayed > 20mins", "anchor": "start", "frame": "group", "offset": -13, "dx": 27, "fontSize": 11, "fontWeight": "bold", "color": "#1B1B78", "font": "Liberation Sans"},
      "layer": [
        {
          "data": {"values": [{}]},
          "mark": {"type": "rect", "fill": "#EFEFEF"},
          "encoding": {
            "x": {"datum": -9.182, "type": "quantitative", "scale": {"domain": [-9.182, 289.42], "nice": false, "zero": false}},
            "x2": {"datum": -6.14},
            "y": {"datum": 0.92321, "type": "quantitative", "scale": {"domain": [0.92321, 1.87512], "nice": false, "zero": false}},
            "y2": {"datum": 1.87512}
          }
        },
        {
          "data": {"values": [{}]},
          "mark": {"type": "rect", "fill": "#FFFFFF", "stroke": "#B4B4B4", "strokeWidth": 1},
          "encoding": {
            "x": {"datum": -0.3, "type": "quantitative", "scale": {"domain": [-9.182, 289.42], "nice": false, "zero": false}},
            "x2": {"datum": 276.33},
            "y": {"datum": 0.9821, "type": "quantitative", "scale": {"domain": [0.92321, 1.87512], "nice": false, "zero": false}},
            "y2": {"datum": 1.8678}
          }
        },
        {
          "data": {"name": "pgrid"},
          "mark": {"type": "rule", "color": "#CBCBCB", "strokeWidth": 1},
          "encoding": {
            "x": {"datum": -0.3, "type": "quantitative", "scale": {"domain": [-9.182, 289.42], "nice": false, "zero": false}},
            "x2": {"datum": 276.33},
            "y": {"field": "p", "type": "quantitative", "scale": {"domain": [0.92321, 1.87512], "nice": false, "zero": false}}
          }
        },
        {
          "data": {"name": "xgrid"},
          "mark": {"type": "rule", "color": "#CBCBCB", "strokeWidth": 1},
          "encoding": {
            "x": {"field": "i", "type": "quantitative", "scale": {"domain": [-9.182, 289.42], "nice": false, "zero": false},
              "axis": {"orient": "bottom", "offset": -24, "values": [19, 39, 59, 79, 99, 119, 139, 159, 179, 199, 219, 239, 259], "tickCount": 40,
                "labelExpr": "['30Mar12','02May12','30May12','28Jun12','26Jul12','23Aug12','20Sep12','18Oct12','15Nov12','13Dec12','15Jan13','13Feb13','09Mar13'][round((datum.value-19)/20)]",
                "grid": false, "domain": false, "ticks": true, "tickSize": 6, "tickColor": "#C4C4C4",
                "labelColor": "#1B1B5E", "labelFontWeight": "bold", "labelFontSize": 11, "labelPadding": 1, "labelFlush": false, "labelOverlap": false, "title": null}},
            "y": {"datum": 0.9821, "type": "quantitative", "scale": {"domain": [0.92321, 1.87512], "nice": false, "zero": false}},
            "y2": {"datum": 1.8678}
          }
        },
        {
          "data": {"name": "bb"},
          "mark": {"type": "line", "color": "#ABABAB", "strokeWidth": 1},
          "encoding": {
            "x": {"field": "i", "type": "quantitative", "scale": {"domain": [-9.182, 289.42], "nice": false, "zero": false}},
            "y": {"field": "up", "type": "quantitative", "scale": {"domain": [0.92321, 1.87512], "nice": false, "zero": false}}
          }
        },
        {
          "data": {"name": "bb"},
          "mark": {"type": "line", "color": "#ABABAB", "strokeWidth": 1},
          "encoding": {
            "x": {"field": "i", "type": "quantitative", "scale": {"domain": [-9.182, 289.42], "nice": false, "zero": false}},
            "y": {"field": "mid", "type": "quantitative", "scale": {"domain": [0.92321, 1.87512], "nice": false, "zero": false}}
          }
        },
        {
          "data": {"name": "bb"},
          "mark": {"type": "line", "color": "#ABABAB", "strokeWidth": 1},
          "encoding": {
            "x": {"field": "i", "type": "quantitative", "scale": {"domain": [-9.182, 289.42], "nice": false, "zero": false}},
            "y": {"field": "lo", "type": "quantitative", "scale": {"domain": [0.92321, 1.87512], "nice": false, "zero": false}}
          }
        },
        {
          "data": {"name": "stops"},
          "mark": {"type": "line", "color": "#B4F0B4", "strokeWidth": 5, "strokeCap": "butt"},
          "encoding": {
            "x": {"field": "i", "type": "quantitative", "scale": {"domain": [-9.182, 289.42], "nice": false, "zero": false}},
            "y": {"field": "p", "type": "quantitative", "scale": {"domain": [0.92321, 1.87512], "nice": false, "zero": false}},
            "detail": {"field": "seg", "type": "nominal"}
          }
        },
        {
          "data": {"name": "ma"},
          "mark": {"type": "line", "color": "#E040E0", "strokeWidth": 1.2},
          "encoding": {
            "x": {"field": "i", "type": "quantitative", "scale": {"domain": [-9.182, 289.42], "nice": false, "zero": false}},
            "y": {"field": "p", "type": "quantitative", "scale": {"domain": [0.92321, 1.87512], "nice": false, "zero": false}}
          }
        },
        {
          "data": {"name": "trend"},
          "mark": {"type": "line", "color": "#1E1E78", "strokeWidth": 1.3},
          "encoding": {
            "x": {"field": "i", "type": "quantitative", "scale": {"domain": [-9.182, 289.42], "nice": false, "zero": false}},
            "y": {"field": "p", "type": "quantitative", "scale": {"domain": [0.92321, 1.87512], "nice": false, "zero": false}},
            "detail": {"field": "id", "type": "nominal"}
          }
        },
        {
          "data": {"name": "trend2"},
          "mark": {"type": "line", "color": "#202020", "strokeWidth": 0.9},
          "encoding": {
            "x": {"field": "i", "type": "quantitative", "scale": {"domain": [-9.182, 289.42], "nice": false, "zero": false}},
            "y": {"field": "p", "type": "quantitative", "scale": {"domain": [0.92321, 1.87512], "nice": false, "zero": false}}
          }
        },
        {
          "data": {"values": [{}]},
          "mark": {"type": "rule", "color": "#8E8600", "strokeWidth": 1},
          "encoding": {
            "x": {"datum": 237.1, "type": "quantitative", "scale": {"domain": [-9.182, 289.42], "nice": false, "zero": false}},
            "y": {"datum": 0.9821, "type": "quantitative", "scale": {"domain": [0.92321, 1.87512], "nice": false, "zero": false}},
            "y2": {"datum": 1.838}
          }
        },
        {
          "data": {"name": "bars"},
          "mark": {"type": "rule", "strokeWidth": 1},
          "encoding": {
            "x": {"field": "i", "type": "quantitative", "scale": {"domain": [-9.182, 289.42], "nice": false, "zero": false}},
            "y": {"field": "l", "type": "quantitative", "scale": {"domain": [0.92321, 1.87512], "nice": false, "zero": false}},
            "y2": {"field": "h"},
            "color": {"condition": {"test": "datum.c >= datum.o", "value": "#3232D2"}, "value": "#E23C3C"}
          }
        },
        {
          "data": {"name": "bars"},
          "mark": {"type": "bar", "width": 3},
          "encoding": {
            "x": {"field": "i", "type": "quantitative", "scale": {"domain": [-9.182, 289.42], "nice": false, "zero": false}},
            "y": {"field": "o", "type": "quantitative", "scale": {"domain": [0.92321, 1.87512], "nice": false, "zero": false},
              "axis": {"orient": "right", "offset": -56, "values": [1.05, 1.1, 1.15, 1.2, 1.25, 1.3, 1.35, 1.4, 1.45, 1.5, 1.55, 1.6, 1.65, 1.7, 1.75], "tickCount": 40, "format": ".3f",
                "grid": false, "domain": false, "tickSize": 5, "tickColor": "#8A8AA8", "labelColor": "#2B2BC0", "labelFontWeight": "bold", "labelFontSize": 11, "labelPadding": 3, "labelOverlap": false, "labelBound": false, "title": null}},
            "y2": {"field": "c"},
            "color": {"condition": {"test": "datum.c >= datum.o", "value": "#3232D2"}, "value": "#E23C3C"}
          }
        },
        {
          "data": {"name": "pen"},
          "mark": {"type": "line", "color": "#2437D6", "strokeWidth": 2.4, "strokeCap": "round", "strokeJoin": "round"},
          "encoding": {
            "x": {"field": "i", "type": "quantitative", "scale": {"domain": [-9.182, 289.42], "nice": false, "zero": false}},
            "y": {"field": "p", "type": "quantitative", "scale": {"domain": [0.92321, 1.87512], "nice": false, "zero": false}},
            "detail": {"field": "s", "type": "nominal"},
            "order": {"field": "k", "type": "quantitative"}
          }
        },
        {
          "data": {"values": [{}]},
          "mark": {"type": "rect", "fill": "#E8E8E8", "stroke": "#C8C8C8", "strokeWidth": 0.5},
          "encoding": {
            "x": {"datum": 253.2, "type": "quantitative", "scale": {"domain": [-9.182, 289.42], "nice": false, "zero": false}},
            "x2": {"datum": 276.33},
            "y": {"datum": 1.8457, "type": "quantitative", "scale": {"domain": [0.92321, 1.87512], "nice": false, "zero": false}},
            "y2": {"datum": 1.8727}
          }
        },
        {
          "data": {"values": [{}]},
          "mark": {"type": "text", "text": "|◀", "font": "DejaVu Sans", "fontSize": 9, "fontWeight": "bold", "color": "#1B2270", "baseline": "middle"},
          "encoding": {
            "x": {"datum": 256.5, "type": "quantitative", "scale": {"domain": [-9.182, 289.42], "nice": false, "zero": false}},
            "y": {"datum": 1.8592, "type": "quantitative", "scale": {"domain": [0.92321, 1.87512], "nice": false, "zero": false}}
          }
        },
        {
          "data": {"values": [{}]},
          "mark": {"type": "text", "text": "◀", "font": "DejaVu Sans", "fontSize": 9, "color": "#1B2270", "baseline": "middle"},
          "encoding": {
            "x": {"datum": 262.0, "type": "quantitative", "scale": {"domain": [-9.182, 289.42], "nice": false, "zero": false}},
            "y": {"datum": 1.8592, "type": "quantitative", "scale": {"domain": [0.92321, 1.87512], "nice": false, "zero": false}}
          }
        },
        {
          "data": {"values": [{}]},
          "mark": {"type": "text", "text": "▶", "font": "DejaVu Sans", "fontSize": 9, "color": "#1B2270", "baseline": "middle"},
          "encoding": {
            "x": {"datum": 267.7, "type": "quantitative", "scale": {"domain": [-9.182, 289.42], "nice": false, "zero": false}},
            "y": {"datum": 1.8592, "type": "quantitative", "scale": {"domain": [0.92321, 1.87512], "nice": false, "zero": false}}
          }
        },
        {
          "data": {"values": [{}]},
          "mark": {"type": "text", "text": "▶|", "font": "DejaVu Sans", "fontSize": 9, "color": "#A8A8B0", "baseline": "middle"},
          "encoding": {
            "x": {"datum": 273.5, "type": "quantitative", "scale": {"domain": [-9.182, 289.42], "nice": false, "zero": false}},
            "y": {"datum": 1.8592, "type": "quantitative", "scale": {"domain": [0.92321, 1.87512], "nice": false, "zero": false}}
          }
        },
        {
          "data": {"values": [{}]},
          "mark": {"type": "text", "text": "1", "fontSize": 9, "color": "#222222", "baseline": "middle", "align": "left"},
          "encoding": {
            "x": {"datum": -8.4, "type": "quantitative", "scale": {"domain": [-9.182, 289.42], "nice": false, "zero": false}},
            "y": {"datum": 1.397, "type": "quantitative", "scale": {"domain": [0.92321, 1.87512], "nice": false, "zero": false}}
          }
        }
      ]
    },
    {
      "width": 1278,
      "height": 100,
      "layer": [
        {
          "data": {"values": [{}]},
          "mark": {"type": "rect", "fill": "#EFEFEF"},
          "encoding": {
            "x": {"datum": -9.182, "type": "quantitative", "axis": null, "scale": {"domain": [-9.182, 289.42], "nice": false, "zero": false}},
            "x2": {"datum": -6.14},
            "y": {"datum": -2.16, "type": "quantitative", "scale": {"domain": [-2.16, 8.479], "nice": false, "zero": false}},
            "y2": {"datum": 8.479}
          }
        },
        {
          "data": {"values": [{}]},
          "mark": {"type": "rect", "fill": "#FFFFFF", "stroke": "#B4B4B4", "strokeWidth": 1},
          "encoding": {
            "x": {"datum": -0.3, "type": "quantitative", "axis": null, "scale": {"domain": [-9.182, 289.42], "nice": false, "zero": false}},
            "x2": {"datum": 276.33},
            "y": {"datum": -1.09, "type": "quantitative", "scale": {"domain": [-2.16, 8.479], "nice": false, "zero": false}},
            "y2": {"datum": 8.16}
          }
        },
        {
          "data": {"values": [{"v": 2}, {"v": 4}]},
          "mark": {"type": "rule", "color": "#CBCBCB", "strokeWidth": 1},
          "encoding": {
            "x": {"datum": -0.3, "type": "quantitative", "axis": null, "scale": {"domain": [-9.182, 289.42], "nice": false, "zero": false}},
            "x2": {"datum": 276.33},
            "y": {"field": "v", "type": "quantitative", "scale": {"domain": [-2.16, 8.479], "nice": false, "zero": false}}
          }
        },
        {
          "data": {"name": "xgrid"},
          "mark": {"type": "rule", "color": "#CBCBCB", "strokeWidth": 1},
          "encoding": {
            "x": {"field": "i", "type": "quantitative", "axis": null, "scale": {"domain": [-9.182, 289.42], "nice": false, "zero": false}},
            "y": {"datum": -1.09, "type": "quantitative", "scale": {"domain": [-2.16, 8.479], "nice": false, "zero": false}},
            "y2": {"datum": 8.16}
          }
        },
        {
          "data": {"name": "bars"},
          "mark": {"type": "bar", "width": 3, "color": "#9A9AC4"},
          "encoding": {
            "x": {"field": "i", "type": "quantitative", "axis": null, "scale": {"domain": [-9.182, 289.42], "nice": false, "zero": false}},
            "y": {"field": "v", "type": "quantitative", "scale": {"domain": [-2.16, 8.479], "nice": false, "zero": false},
              "axis": {"orient": "right", "offset": -56, "values": [0, 2, 4], "tickCount": 10, "labelExpr": "datum.value == 0 ? '0' : datum.value + ' m'",
                "grid": false, "domain": false, "tickSize": 5, "tickColor": "#A0A0B4", "labelColor": "#9A9AB0", "labelFontSize": 11, "labelPadding": 2, "labelOverlap": false, "labelBound": false, "title": null}},
            "y2": {"datum": 0}
          }
        },
        {
          "data": {"values": [{}]},
          "mark": {"type": "rule", "color": "#8E8600", "strokeWidth": 1},
          "encoding": {
            "x": {"datum": 237.1, "type": "quantitative", "axis": null, "scale": {"domain": [-9.182, 289.42], "nice": false, "zero": false}},
            "y": {"datum": -0.78, "type": "quantitative", "scale": {"domain": [-2.16, 8.479], "nice": false, "zero": false}},
            "y2": {"datum": 6.65}
          }
        },
        {
          "data": {"values": [{}]},
          "mark": {"type": "text", "text": "VOLUME DAILY", "fontSize": 11, "fontWeight": "bold", "color": "#1B1B78", "align": "left", "baseline": "middle"},
          "encoding": {
            "x": {"datum": -2.64, "type": "quantitative", "axis": null, "scale": {"domain": [-9.182, 289.42], "nice": false, "zero": false}},
            "y": {"datum": 7.52, "type": "quantitative", "scale": {"domain": [-2.16, 8.479], "nice": false, "zero": false}}
          }
        },
        {
          "data": {"values": [{}]},
          "mark": {"type": "text", "text": "1", "fontSize": 9, "color": "#222222", "baseline": "middle", "align": "left"},
          "encoding": {
            "x": {"datum": -8.4, "type": "quantitative", "axis": null, "scale": {"domain": [-9.182, 289.42], "nice": false, "zero": false}},
            "y": {"datum": 5.71, "type": "quantitative", "scale": {"domain": [-2.16, 8.479], "nice": false, "zero": false}}
          }
        },
        {
          "data": {"values": [{}]},
          "mark": {"type": "text", "text": "2", "fontSize": 9, "color": "#222222", "baseline": "middle", "align": "left"},
          "encoding": {
            "x": {"datum": -8.4, "type": "quantitative", "axis": null, "scale": {"domain": [-9.182, 289.42], "nice": false, "zero": false}},
            "y": {"datum": 0.39, "type": "quantitative", "scale": {"domain": [-2.16, 8.479], "nice": false, "zero": false}}
          }
        },
        {
          "data": {"values": [{}]},
          "mark": {"type": "rule", "color": "#A8A8A8", "strokeWidth": 2},
          "encoding": {
            "x": {"datum": -9.182, "type": "quantitative", "axis": null, "scale": {"domain": [-9.182, 289.42], "nice": false, "zero": false}},
            "x2": {"datum": 289.42},
            "y": {"datum": 8.38, "type": "quantitative", "scale": {"domain": [-2.16, 8.479], "nice": false, "zero": false}}
          }
        },
        {
          "data": {"values": [{}]},
          "mark": {"type": "rule", "color": "#B8B8B8", "strokeWidth": 1.5},
          "encoding": {
            "x": {"datum": -9.182, "type": "quantitative", "axis": null, "scale": {"domain": [-9.182, 289.42], "nice": false, "zero": false}},
            "x2": {"datum": 289.42},
            "y": {"datum": -1.84, "type": "quantitative", "scale": {"domain": [-2.16, 8.479], "nice": false, "zero": false}}
          }
        }
      ]
    }
  ]
}
